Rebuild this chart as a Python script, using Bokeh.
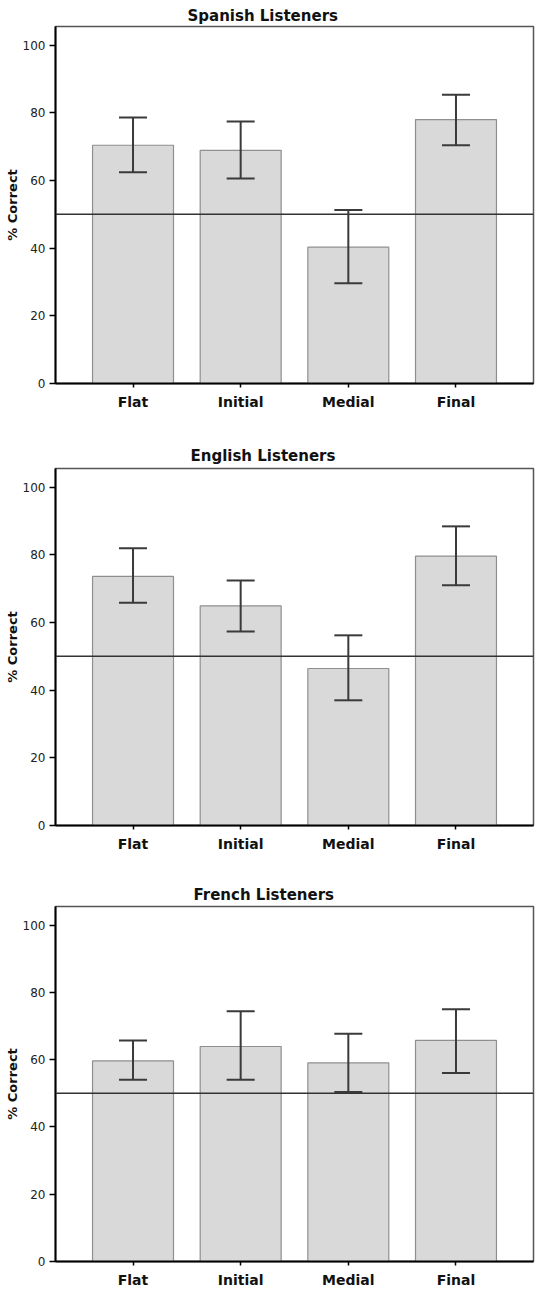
from bokeh.plotting import figure
from bokeh.models import (ColumnDataSource, Whisker, TeeHead, Span, FactorRange,
                          Range1d, FixedTicker, Title)
from bokeh.layouts import column
from bokeh.embed import file_html
from bokeh.resources import INLINE

# ---------------- data ----------------
categories = ["Flat", "Initial", "Medial", "Final"]
panel_titles = ["Spanish Listeners", "English Listeners", "French Listeners"]

spanish_mean = [70.4, 68.9, 40.3, 78.0]
spanish_upper = [78.6, 77.4, 51.3, 85.3]
spanish_lower = [62.4, 60.6, 29.6, 70.4]

english_mean = [73.6, 64.9, 46.4, 79.6]
english_upper = [81.9, 72.4, 56.2, 88.4]
english_lower = [65.8, 57.3, 37.0, 71.0]

french_mean = [59.6, 63.9, 59.0, 65.7]
french_upper = [65.7, 74.4, 67.7, 75.0]
french_lower = [54.0, 54.0, 50.4, 56.0]

y_ticks = [0, 20, 40, 60, 80, 100]
chance_level = 50
y_label = "% Correct"

# ---------------- layout / style ----------------
FONT = "DejaVu Sans"
FIG_W = 536
BORDER_L = 55
BORDER_R = 3
FRAME_H = 357
Y_MAX = 105.5
PAD = 0.11
tops = [26, 38, 36]
bottoms = [47, 45, 27]
title_standoff = [4, 8, 5]
title_offset = [132, 135, 138]

series = [
    (spanish_mean, spanish_upper, spanish_lower),
    (english_mean, english_upper, english_lower),
    (french_mean, french_upper, french_lower),
]


def make_panel(i):
    mean, upper, lower = series[i]
    h = tops[i] + FRAME_H + bottoms[i]
    x_range = FactorRange(*categories, range_padding=PAD)
    p = figure(x_range=x_range, y_range=Range1d(0, Y_MAX),
               width=FIG_W, height=h,
               min_border_left=BORDER_L, min_border_right=BORDER_R,
               min_border_top=tops[i], min_border_bottom=bottoms[i],
               output_backend="svg", toolbar_location=None,
               background_fill_color="white", border_fill_color="white")
    p.outline_line_color = "#555555"
    p.outline_line_width = 1.5
    p.xgrid.visible = False
    p.ygrid.visible = False

    t = Title(text=panel_titles[i], align="left", offset=title_offset[i],
              standoff=title_standoff[i], text_font=FONT, text_font_style="bold",
              text_font_size="15px", text_color="#111111")
    p.add_layout(t, "above")

    src = ColumnDataSource(dict(cat=categories, mean=mean, upper=upper, lower=lower))
    p.vbar(x="cat", top="mean", bottom=0, width=0.752, source=src,
           fill_color="#d9d9d9", line_color="#8f8f8f", line_width=1.2)

    span = Span(location=chance_level, dimension="width",
                line_color="#333333", line_width=1.5, level="overlay")
    p.add_layout(span)

    wh = Whisker(base="cat", upper="upper", lower="lower", source=src,
                 line_color="#3a3a3a", line_width=2, level="overlay",
                 upper_head=TeeHead(size=28, line_color="#3a3a3a", line_width=2),
                 lower_head=TeeHead(size=28, line_color="#3a3a3a", line_width=2))
    p.add_layout(wh)

    # x axis
    xa = p.xaxis[0]
    xa.axis_line_color = "black"
    xa.axis_line_width = 2
    xa.major_tick_out = 4
    xa.major_tick_in = 0
    xa.major_tick_line_color = "black"
    xa.major_tick_line_width = 1.5
    xa.major_label_text_font = FONT
    xa.major_label_text_font_style = "bold"
    xa.major_label_text_font_size = "14px"
    xa.major_label_text_color = "#111111"
    xa.major_label_standoff = 6

    # y axis
    ya = p.yaxis[0]
    ya.ticker = FixedTicker(ticks=y_ticks)
    ya.minor_tick_line_color = None
    ya.axis_line_color = "black"
    ya.axis_line_width = 2
    ya.major_tick_out = 6
    ya.major_tick_in = 0
    ya.major_tick_line_color = "black"
    ya.major_tick_line_width = 1.5
    ya.major_label_text_font = FONT
    ya.major_label_text_font_size = "12px"
    ya.major_label_text_color = "#222222"
    ya.major_label_standoff = 4
    ya.axis_label = y_label
    ya.axis_label_text_font = FONT
    ya.axis_label_text_font_style = "bold"
    ya.axis_label_text_font_size = "13px"
    ya.axis_label_text_color = "#111111"
    ya.axis_label_standoff = 0
    return p


panels = [make_panel(i) for i in range(3)]
layout = column(*panels, spacing=0)
open("out.html", "w").write(file_html(layout, INLINE))
